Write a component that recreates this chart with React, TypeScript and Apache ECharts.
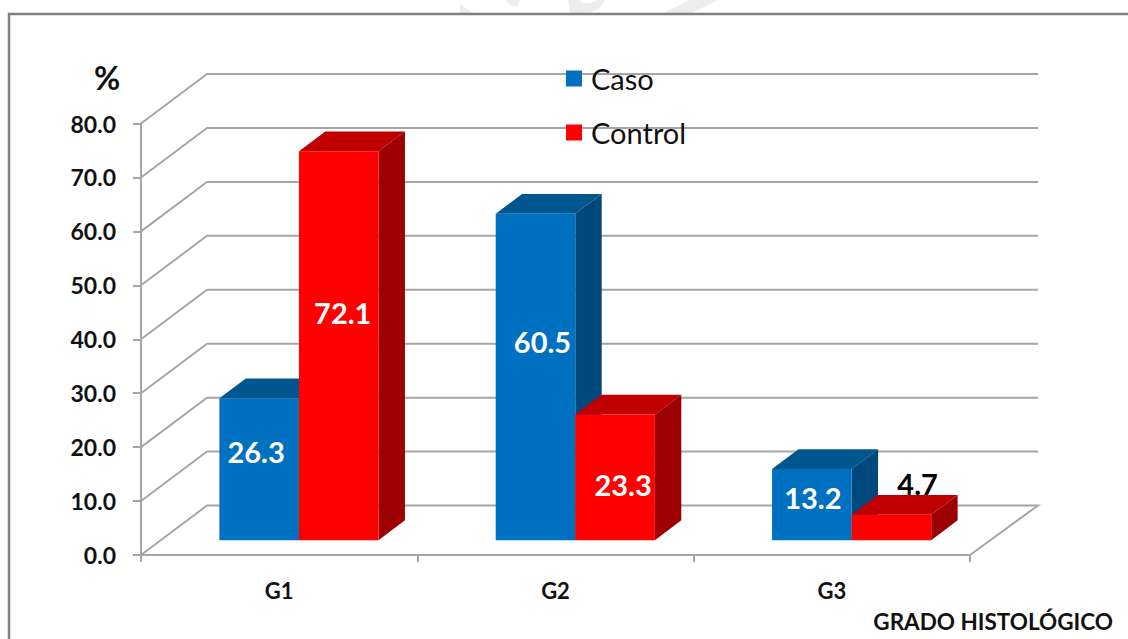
import React, { useEffect, useRef } from "react";
import * as echarts from "echarts";

const categories = ["G1", "G2", "G3"];
const casoValues = [26.3, 60.5, 13.2];
const controlValues = [72.1, 23.3, 4.7];
const yTicks = [0, 10, 20, 30, 40, 50, 60, 70, 80];

// Shift of each value label from the centre of its bar's front face: [dx, dy]
const casoLabelShift = [[-3, -18], [7, -35], [1, -7]];
const controlLabelShift = [[4, -33], [8, 7], [0, 0]];

const FLOOR_DX = 66;
const FLOOR_DY = -49.5;
const WALL_EXTRA = 2;
const BAR_FRONT = 0.3;
const BAR_BACK = 0.7;
const BAR_BAND = 0.288;

const WALL = "#A6A6A6";
const FONT = "Lato, Carlito, Calibri, sans-serif";
const SHADE = "#EDEDED";

// Faint stamp fragments showing along the top edge of the page
const stampPieces = [
  [[460, 4], [473, 13], [460, 13]],
  [[505, 0], [520, 0], [517, 7], [510, 5]],
  [[568, 0], [580, 0], [581, 3], [590, 3], [598, 0], [605, 0], [600, 8], [590, 13], [570, 13]],
  [[663, 13], [692, 13], [717, 0], [690, 0]],
];

function wallRenderer(_: any, api: any) {
  const size = api.size([1, 0])[0];
  const start = api.coord([0, api.value(0)]);
  const x0 = start[0] - size / 2;
  const y0 = start[1];
  const span = size * categories.length;
  const backRight = x0 + span + FLOOR_DX + WALL_EXTRA;
  const points: number[][] =
    api.value(0) === 0
      ? [
          [x0 + span, y0],
          [backRight, y0 + FLOOR_DY],
          [x0 + FLOOR_DX, y0 + FLOOR_DY],
          [x0, y0],
        ]
      : [
          [x0, y0],
          [x0 + FLOOR_DX, y0 + FLOOR_DY],
          [backRight, y0 + FLOOR_DY],
        ];
  return {
    type: "polyline",
    shape: { points },
    style: { stroke: WALL, lineWidth: 2, fill: "none" },
    silent: true,
  };
}

function barRenderer(
  side: -1 | 1,
  front: string,
  top: string,
  right: string,
  shifts: number[][],
) {
  return (params: any, api: any) => {
    const band = api.size([1, 0])[0];
    const w = band * BAR_BAND;
    const value = api.value(1);
    const base = api.coord([api.value(0), 0]);
    const head = api.coord([api.value(0), value]);
    const fx = FLOOR_DX * BAR_FRONT;
    const fy = FLOOR_DY * BAR_FRONT;
    const bx = FLOOR_DX * (BAR_BACK - BAR_FRONT);
    const by = FLOOR_DY * (BAR_BACK - BAR_FRONT);
    const left = base[0] + fx + (side < 0 ? -w : 0);
    const rightEdge = left + w;
    const yTop = head[1] + fy;
    const yBase = base[1] + fy;
    const shift = shifts[params.dataIndex];
    const onFace = yBase - yTop > 40;
    const label = onFace
      ? {
          x: (left + rightEdge) / 2 + shift[0],
          y: (yTop + yBase) / 2 + shift[1],
          fill: "#FFFFFF",
        }
      : { x: (left + rightEdge) / 2 + bx / 2 + 13, y: yTop + by - 11, fill: "#000000" };
    return {
      type: "group",
      children: [
        {
          type: "polygon",
          shape: {
            points: [
              [left, yTop],
              [rightEdge, yTop],
              [rightEdge + bx, yTop + by],
              [left + bx, yTop + by],
            ],
          },
          style: { fill: top },
        },
        {
          type: "polygon",
          shape: {
            points: [
              [rightEdge, yTop],
              [rightEdge + bx, yTop + by],
              [rightEdge + bx, yBase + by],
              [rightEdge, yBase],
            ],
          },
          style: { fill: right },
        },
        {
          type: "rect",
          shape: { x: left, y: yTop, width: w, height: yBase - yTop },
          style: { fill: front },
        },
        {
          type: "text",
          style: {
            text: value.toFixed(1),
            x: label.x,
            y: label.y,
            fill: label.fill,
            align: "center",
            verticalAlign: "middle",
            font: `bold 29px ${FONT}`,
          },
        },
      ],
    };
  };
}

export default function App() {
  const ref = useRef<HTMLDivElement>(null);

  useEffect(() => {
    const chart = echarts.init(ref.current!, undefined, { renderer: "svg" });
    chart.setOption({
      animation: false,
      backgroundColor: "#FFFFFF",
      grid: { left: 141, right: 158, top: 123.5, bottom: 84 },
      xAxis: {
        type: "category",
        data: categories,
        axisLine: { lineStyle: { color: WALL, width: 2 } },
        axisTick: { show: true, length: 7, lineStyle: { color: WALL, width: 2 } },
        axisLabel: {
          color: "#111111",
          fontFamily: FONT,
          fontWeight: "bold",
          fontSize: 22,
          margin: 24,
        },
        splitLine: { show: false },
      },
      yAxis: {
        type: "value",
        min: 0,
        max: 80,
        interval: 10,
        name: "%",
        nameLocation: "end",
        nameGap: 30,
        nameTextStyle: {
          color: "#111111",
          fontFamily: FONT,
          fontWeight: "bold",
          fontSize: 32,
          padding: [0, 68, 0, 0],
        },
        axisLine: { show: true, lineStyle: { color: WALL, width: 2 } },
        axisTick: { show: true, length: 8, lineStyle: { color: WALL, width: 2 } },
        axisLabel: {
          color: "#111111",
          fontFamily: FONT,
          fontWeight: "bold",
          fontSize: 23,
          margin: 25,
          formatter: (v: number) => v.toFixed(1),
        },
        splitLine: { show: false },
      },
      legend: {
        left: 561,
        top: 59,
        orient: "vertical",
        itemWidth: 16,
        itemHeight: 16,
        itemGap: 25,
        icon: "rect",
        selectedMode: false,
        data: ["Caso", "Control"],
        textStyle: { color: "#111111", fontFamily: FONT, fontSize: 29, padding: [0, 0, 0, 4] },
      },
      graphic: [
        ...stampPieces.map((points) => ({
          type: "polygon",
          z: -20,
          shape: { points },
          style: { fill: SHADE },
        })),
        {
          type: "rect",
          z: -10,
          shape: { x: 9, y: 14, width: 1140, height: 660 },
          style: { fill: "#FFFFFF", stroke: "#7F7F7F", lineWidth: 2.5 },
        },
        {
          type: "text",
          style: {
            text: "GRADO HISTOLÓGICO",
            x: 1113,
            y: 621,
            align: "right",
            verticalAlign: "middle",
            fill: "#111111",
            font: `bold 22.5px ${FONT}`,
          },
        },
      ],
      series: [
        {
          type: "custom",
          name: "Back wall",
          data: yTicks.map((v) => [v]),
          encode: { y: 0 },
          coordinateSystem: "cartesian2d",
          renderItem: wallRenderer,
          silent: true,
          z: 1,
        },
        {
          type: "custom",
          name: "Caso",
          data: casoValues.map((v, i) => [i, v]),
          encode: { x: 0, y: 1 },
          itemStyle: { color: "#0070C0" },
          renderItem: barRenderer(-1, "#0070C0", "#00568F", "#00487C", casoLabelShift),
          z: 2,
        },
        {
          type: "custom",
          name: "Control",
          data: controlValues.map((v, i) => [i, v]),
          encode: { x: 0, y: 1 },
          itemStyle: { color: "#FF0000" },
          renderItem: barRenderer(1, "#FF0000", "#C00000", "#9C0000", controlLabelShift),
          z: 3,
        },
      ],
    });
    return () => chart.dispose();
  }, []);

  return (
    <div
      ref={ref}
      style={{ position: "fixed", left: 0, top: 0, width: 1128, height: 639 }}
    />
  );
}
